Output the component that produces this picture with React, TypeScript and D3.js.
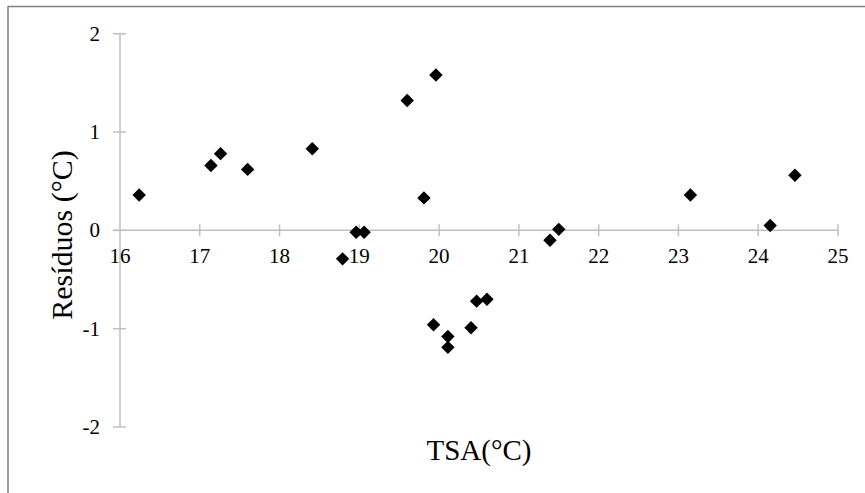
import React from "react";
import * as d3 from "d3";

const tsa: number[] = [16.24, 17.14, 17.26, 17.6, 18.41, 18.79, 18.96, 19.06, 19.6, 19.96, 19.81, 21.5, 21.39, 19.93, 20.11, 20.11, 20.4, 20.47, 20.6, 23.15, 24.15, 24.46];
const residuos: number[] = [0.36, 0.66, 0.78, 0.62, 0.83, -0.29, -0.02, -0.02, 1.32, 1.58, 0.33, 0.01, -0.1, -0.96, -1.08, -1.19, -0.99, -0.72, -0.7, 0.36, 0.05, 0.56];
const xTicks: number[] = [16, 17, 18, 19, 20, 21, 22, 23, 24, 25];
const yTicks: number[] = [-2, -1, 0, 1, 2];
const xLabel = "TSA(°C)";
const yLabel = "Resíduos (°C)";

const W = 865;
const H = 493;
const FONT = "Liberation Serif, Tinos, Times New Roman, DejaVu Serif, serif";
const AXIS = "#bfbfbf";

export default function App() {
  const x = d3.scaleLinear().domain([16, 25]).range([120, 838]);
  const y = d3.scaleLinear().domain([-2, 2]).range([427, 33.7]);
  const diamond = d3.symbol().type(d3.symbolDiamond2).size(115)();
  const points = tsa.map((v, i) => ({ x: v, y: residuos[i] }));
  const textStyle = { fontFamily: FONT } as React.CSSProperties;

  return (
    <div style={{ position: "absolute", left: 0, top: 0 }}>
      <svg width={W} height={H} style={{ display: "block", background: "#fff", fontFamily: FONT }}>
        {/* frame (top and left edges visible) */}
        <line x1={8} y1={6.5} x2={W} y2={6.5} stroke="#7f7f7f" strokeWidth={1.5} />
        <line x1={8} y1={6} x2={8} y2={H} stroke="#7f7f7f" strokeWidth={1.5} />

        {/* y axis */}
        <line x1={x(16)} y1={y(2)} x2={x(16)} y2={y(-2)} stroke={AXIS} strokeWidth={1.5} />
        {yTicks.map((t) => (
          <g key={"y" + t}>
            <line x1={x(16) - 7} x2={x(16) + 6} y1={y(t)} y2={y(t)} stroke={AXIS} strokeWidth={1.5} />
            <text x={100} y={y(t)} dy="0.33em" textAnchor="end" style={textStyle} fontSize={21} fill="#000">
              {t}
            </text>
          </g>
        ))}

        {/* x axis */}
        <line x1={x(16) - 7} y1={y(0)} x2={x(25)} y2={y(0)} stroke={AXIS} strokeWidth={1.5} />
        {xTicks.map((t) => (
          <g key={"x" + t}>
            {t !== 16 && (
              <line x1={x(t)} x2={x(t)} y1={y(0) - 6} y2={y(0) + 6} stroke={AXIS} strokeWidth={1.5} />
            )}
            <text x={x(t)} y={263} textAnchor="middle" style={textStyle} fontSize={21} fill="#000">
              {t}
            </text>
          </g>
        ))}

        {/* points */}
        {points.map((p, i) => (
          <path key={i} d={diamond || ""} transform={`translate(${x(p.x)},${y(p.y)})`} fill="#000" />
        ))}

        {/* axis titles */}
        <text x={479} y={460} textAnchor="middle" style={textStyle} fontSize={29} fill="#000">
          {xLabel}
        </text>
        <text
          transform={`translate(72,235) rotate(-90)`}
          textAnchor="middle"
          style={textStyle}
          fontSize={30}
          fill="#000"
        >
          {yLabel}
        </text>
      </svg>
    </div>
  );
}
